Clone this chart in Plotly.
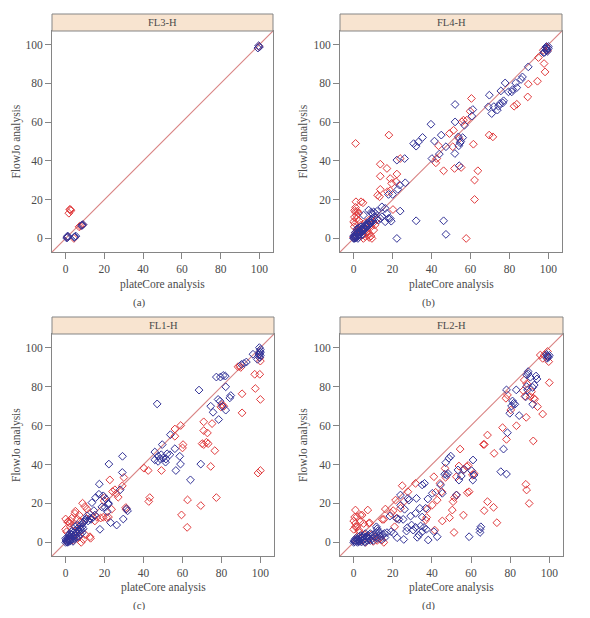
import plotly.graph_objects as go

# ---------------- data (plateCore %, FlowJo %) ----------------
PANELS = ["FL3-H", "FL4-H", "FL1-H", "FL2-H"]
LETTERS = ["(a)", "(b)", "(c)", "(d)"]
TICKS = [0, 20, 40, 60, 80, 100]

# (a) FL3-H
FL3_BLUE_X = [100, 99.6, 99.2, 0.9, 1.3, 0.6, 1.0, 4.8, 5.3, 4.5, 8.6, 9.0, 8.3]
FL3_BLUE_Y = [98.8, 99.4, 98.2, 0.5, 1.0, 0.2, 1.2, 0.9, 1.2, 0.6, 6.9, 7.2, 6.6]
FL3_RED_X = [2.2, 1.7, 2.7, 2.5, 7.0, 7.6, 4.3, 1.0, 99.8, 8.8]
FL3_RED_Y = [15.0, 13.0, 14.3, 14.8, 6.0, 6.5, 0.0, 0.8, 99.0, 7.0]

# (b) FL4-H
FL4_BLUE_X = [99, 98.5, 100, 99.5, 98, 99.2, 97.6, 100, 99, 89.7, 86.7, 86, 83.2, 83.8, 81.7, 81.2, 79.5, 77.8,
              75.6, 75.2, 74.4, 76.6, 73.8, 70.9, 69.7, 69.2, 61.2, 60.7, 52.1, 52.1, 56.9, 53.8, 54.7, 54, 52,
              54.2, 45, 47.4, 44, 40.2, 41.5, 39.7, 35.4, 33.3, 30.8, 32.1, 26.2, 22.2, 23.6, 26.5, 20, 17.9, 22.7,
              22.2, 23.9, 32.1, 46.2, 47.4, 14.5, 16.2, 17.1, 17.9, 16.2, 18.8, 19.3, 13.7, 12.8, 14.5, 10.3, 9.4,
              7.7, 5.1, 72, 77, 55, 56,
              0, 0.5, 1, 1, 1.5, 2, 2, 2.5, 3, 3, 3.5, 4, 4, 4.5, 5, 5, 5.5, 6, 6, 6.5, 7, 7, 7.5, 8, 8, 8.5, 9,
              9.5, 10, 0.3, 0.8, 1.5, 2.2, 3, 0.2, 1.8, 3.8, 2.8, 4.5, 10.5, 11, 12, 9, 0.5, 1.2, 0, 2.5, 3.2, 4.2,
              5.2, 6.3, 7.2, 8.5, 9.8, 1.5, 0.8]
FL4_BLUE_Y = [97, 98, 99, 96.5, 96, 97.5, 95.8, 98, 99, 88.5, 83.3, 82, 80.2, 77.8, 76.8, 75.6, 75.6, 80.2,
              76.1, 69.6, 68.2, 69.9, 66.2, 64.4, 73.9, 67.9, 66.5, 63.1, 69.1, 60.1, 58.4, 52.4, 49.3, 47.8, 43.8,
              37.5, 53.3, 47.3, 43.5, 41.2, 50.2, 58.9, 52.1, 49.8, 48.9, 47.6, 41.2, 40.4, 27.5, 28.7, 22.7, 22.7,
              25.3, 0, 14.1, 9.1, 9.1, 2.1, 16.3, 15.5, 12.9, 10.3, 8.6, 10.3, 8.9, 10.3, 9.5, 11.2, 13.7, 12.9,
              14.6, 12.0, 68, 71, 50, 52,
              0, 1, 0.5, 2, 1, 2.5, 1, 3, 2, 4, 3, 4.5, 3, 5, 4, 6, 5, 6.5, 5, 7, 6, 8, 7, 8.5, 7, 9, 8,
              9.5, 9, 0.2, 3, 3.5, 0, 1, 1.5, 5, 6, 5.5, 2, 11, 13, 14, 13.5, 0, 0.3, 1, 2, 3.2, 4.0,
              5.5, 6, 7.5, 8, 10.5, 2.5, 1.8]
FL4_RED_X = [98.8, 97.4, 99.5, 94.9, 97.8, 98.3, 94.4, 89.7, 89.4, 83.8, 82.4, 60.5, 59.8, 56.4, 58.1, 55.6,
             51.3, 49.2, 50.9, 54.2, 55.2, 51.8, 61.5, 69.6, 71.5, 62.1, 63.8, 62.1, 57.8, 46.2, 42.2, 42.7, 43.6,
             23.9, 22.2, 18.1, 13.7, 17.1, 18.8, 19.5, 13.7, 13.7, 18.8, 17.4, 12.3, 13.3, 21.9, 20.2, 1.0,
             1.2, 3.8, 4.8, 0.9, 0.4, 0.7, 1.7, 8.9, 9.4, 10.3, 0, 1.4, 0.5, 2, 1.5, 0.3, 2.5, 1, 2, 3, 4, 5, 6,
             7, 8, 6, 8, 10, 12, 5, 3, 1, 0, 7, 9, 4, 2.8, 11, 6.5, 7.8]
FL4_RED_Y = [98.8, 97.1, 97, 93.3, 90.2, 85.9, 81.1, 79.6, 73, 69.2, 68.2, 72.2, 65.6, 61, 61, 60.1,
             55.8, 54.1, 47.3, 51.5, 36.6, 36.1, 48.6, 53.3, 52.4, 30.1, 34.9, 20.1, 0, 34.9, 39, 41.2, 47.8,
             41.2, 33.2, 53.3, 38.3, 36.1, 30.9, 28.4, 32.1, 25.3, 24.6, 24.1, 22.3, 21.5, 29.2, 14.9, 49,
             18.9, 18.9, 18.4, 13.7, 11, 7.7, 4.3, 1.2, 0, 4.3, 8.6, 12, 14.5, 14, 10, 6, 13, 16, 1, 5, 1.5, 2, 1,
             3, 0.5, 8, 9.5, 8, 10, 0, 2, 3, 0.5, 5, 6, 7, 9, 7, 3.5, 2]

# (c) FL1-H
FL1_BLUE_X = [99.5, 100, 99.8, 99.5, 100, 99.6, 98.5, 100, 99.2, 96.2, 92.8, 91.6, 90.3, 82, 80.9, 79.5, 77.4,
              82.2, 78.3, 79.3, 80.5, 82.2, 74.5, 75.7, 78.6, 84.8, 84.3, 68.5, 47, 69.4, 64.1, 59, 58.6, 56.6,
              56.1, 53.8, 49.6, 49.1, 45.8, 45.8, 47.5, 50.1, 51.5, 52.1, 51.3, 53.5, 47.5, 48.5, 29.2, 29.1,
              22.2, 17.3, 17.1, 15.4, 19.3, 20.7, 21.9, 21.4, 20.2, 23.1, 26.2, 29.6, 31.8, 31.3, 17.6, 14.5,
              13.5, 11.1, 12.5, 10.4, 11.5, 13, 14, 15, 10, 9.5, 18.6, 22, 28,
              0, 0.5, 1, 1, 1.5, 2, 2, 2.5, 3, 3, 3.5, 4, 4, 4.5, 5, 5, 5.5, 6, 6, 6.5, 7, 7, 7.5, 8, 8, 8.5, 9,
              9, 0.2, 1.2, 2.5, 3.5, 4.5, 5.5, 6.5, 7.5, 8.5, 0, 1.8, 3, 0.8, 3.8, 2.2, 5, 6]
FL1_BLUE_Y = [100, 99, 98, 97, 96, 95, 94, 97.5, 96.2, 96.6, 92.6, 91.9, 91.4, 85.4, 85.7, 84.9, 84.9,
              79.9, 73.4, 72.5, 69.9, 67.9, 69.9, 66.8, 63.1, 75.4, 74.2, 78.2, 71.1, 40.2, 32.1, 40.2, 44.2, 36.9,
              48.1, 55.3, 50.2, 45, 46.4, 42.4, 41.6, 43.3, 42.8, 45.5, 41.2, 45, 44.2, 43, 44.2, 35.9,
              40.2, 29.9, 24.7, 23, 23.9, 22.2, 19.6, 15.8, 17.9, 10.1, 8.9, 12, 16.2, 17.2, 6.7, 16.3,
              20.4, 13.6, 12.4, 12, 11, 11.8, 13, 14, 11.5, 10.5, 18.2, 20.1, 27,
              0, 0.5, 0, 1.5, 1, 2, 0.5, 3, 2, 4, 3, 5, 3, 4, 6, 3.5, 5, 7, 4.5, 6, 8, 5.5, 7, 9, 6.5, 8, 10,
              7, 1.2, 2.5, 1, 1.5, 2, 2.5, 3, 4, 5, 2, 3.8, 5.5, 0.2, 0.5, 4.5, 8, 9]
FL1_RED_X = [100, 99.7, 97.1, 99.7, 97.4, 100, 90.6, 90.6, 89.4, 88.5, 89.9, 80.3, 81.2, 79.7, 70.9, 70.9,
             72.8, 72.3, 73.2, 70.9, 70.1, 75.2, 76.6, 74.5, 77.4, 69.4, 62.6, 62.4, 59.5, 60.3, 60, 59.1, 56.1,
             56.1, 49.2, 42.4, 40.2, 43.2, 42.7, 98.8, 100, 29.9, 29.1, 25.3, 27, 22.7, 24.1, 19.8, 21, 19.3,
             23.6, 30.9, 12.1, 8.7, 9.9, 11, 12.5, 12.8, 9.1, 3.1, 1.4, 2.2, 4.8, 6, 7.4, 0.5, 0, 0, 1, 5, 2.5,
             8, 6, 4, 10, 7, 4.5, 3.5, 7, 15, 16, 18, 26, 31, 20, 22]
FL1_RED_Y = [93.1, 94.8, 86.3, 86.3, 79, 73.4, 76.3, 66.5, 90.5, 90.2, 89.8, 70.8, 69.9, 69.6, 61.9, 57.4,
             56.2, 51.4, 50.7, 50.2, 50.7, 61, 47.1, 39, 23, 18.9, 21.8, 7.7, 14.1, 50.2, 48.5, 60, 58.2,
             54.5, 36.9, 36.9, 38.1, 23, 21, 35.6, 36.9, 33.3, 29, 27, 23.2, 32.1, 26.1, 21.3, 12.7, 12.9,
             17, 17.9, 14.9, 20.1, 18.4, 17, 2.9, 2.1, 1.5, 12.4, 10.7, 9.8, 14.9, 12, 10.7, 5.5, 6.7, 12, 10.5, 16, 11,
             0, 2, 1, 4, 3, 8.5, 6, 14, 11, 13, 12.5, 25, 17, 23, 13]

# (d) FL2-H
FL2_BLUE_X = [99.1, 99, 98.8, 99.5, 98.5, 100, 89.2, 88.4, 89.2, 90.3, 93.2, 93.7, 92.3, 91.5, 88.4, 88.9, 88,
              91.5, 83.1, 78.1, 81.2, 81.7, 82.4, 80.7, 79.8, 84.6, 78.6, 76.6, 75.2, 78.1, 61, 60.3, 61.5, 60.9,
              56.4, 53.3, 55, 53.8, 49.6, 48.7, 47, 48.2, 47.5, 52.5, 45.3, 44.4, 40.2, 36.2, 35, 37.9, 36.8,
              32.1, 28.2, 27.7, 23.9, 21.9, 23.1, 25.3, 27.4, 27, 29.1, 29.6, 31.6, 34.2, 35.9, 37.1, 35, 33.3,
              32.5, 33.8, 31.6, 30.4, 25.6, 22.2, 20.5, 19.1, 15.7, 11.6, 41, 38.1, 42.7, 59, 64.6, 65, 64.6,
              18.5, 26, 24, 46.5, 35, 12, 13, 14,
              0, 0.5, 1, 1.5, 2, 2, 2.5, 3, 3, 3.5, 4, 4, 4.5, 5, 5, 5.5, 6, 6.5, 7, 7, 7.5, 8, 8.5, 9, 9.5, 10,
              10, 11, 11.5, 12, 13, 14, 15, 16, 17, 1, 0.3, 2.8, 6, 8.5, 12.5, 3.5, 5.8]
FL2_BLUE_Y = [95.4, 96, 94.5, 95, 96.5, 96, 87.7, 86, 86.5, 84.8, 85.4, 83.9, 80.8, 79.6, 80, 78.3, 74.8,
              70.9, 78.3, 78.3, 72.6, 71.4, 70.9, 70, 66.3, 65.1, 56.3, 47.9, 36.3, 35.1, 42.3, 36.8, 34.6, 32,
              37.5, 37.2, 34.1, 32, 44.3, 43.2, 40.9, 35.4, 34.6, 24.3, 25.2, 29.5, 25.2, 30.3, 29.5, 22.3, 17.5,
              22.6, 21.7, 22.6, 24.3, 12.3, 11.8, 11.8, 7.5, 5.8, 13.5, 8.9, 7.7, 8.4, 7.7, 6.7, 5.5, 3.8,
              2.6, 17.5, 14.9, 6.3, 1.5, 2.4, 4.6, 5.5, 4.6, 8.0, 5.5, 1.2, 2.9, 2.9, 6.7, 8, 5.1,
              13.5, 17, 19, 35, 13, 7, 5, 3,
              0, 0.3, 1, 0.5, 0, 1.5, 0.8, 2, 0.5, 1.5, 2.5, 0.2, 1, 3, 1.5, 0.5, 2, 3, 1, 2.5, 3.5, 2, 1, 3, 2, 4,
              1, 3, 5, 2, 3.5, 1.5, 4, 2.5, 5, 2, 1, 3, 4.5, 4.5, 6, 3.5, 0]
FL2_RED_X = [99.1, 97.4, 96.6, 99.7, 100, 95.4, 90.9, 90.3, 87.2, 88.5, 86.7, 87.5, 94, 96.6, 91.8, 88.2, 83.2,
             77.8, 78.6, 80.3, 78.1, 76.1, 71.8, 68.4, 66.3, 66.8, 66.7, 68.4, 71.5, 73.2, 88, 88.4, 89.7, 54.4,
             57.8, 58.5, 56.1, 52.5, 53.8, 59, 58.1, 60.7, 61.5, 56.1, 51.3, 52.6, 51.5, 50.8, 50.4, 49, 46.7,
             47, 44.1, 41.9, 42.7, 45, 41, 45.3, 41.4, 37.6, 40.2, 37.3, 36.8, 31.6, 27.7, 24.8, 23.9, 25.6, 22.2,
             20.2, 20.9, 21.4, 19.1, 16.2, 15.4, 14.5, 92, 92.5,
             0.9, 7.2, 3.4, 0.5, 3.4, 5.1, 8.2, 0.9, 2.6, 14.6, 15.4, 1.7, 0, 0.9, 1.7, 0, 4.3, 7.7, 2, 4, 6, 8,
             10, 12, 3, 5.5, 1, 9, 11, 13]
FL2_RED_Y = [98, 96.2, 94.5, 92.8, 82, 96.2, 77.4, 74.8, 83.4, 81.5, 77.9, 75, 69.7, 65.9, 52.1, 64.2, 59.9,
             74, 75.7, 68, 52.9, 58.9, 45.7, 55.1, 50.3, 50.3, 16.3, 20.9, 18, 10.1, 29.8, 26.9, 20, 47.9,
             38.9, 39.5, 37.2, 33.7, 39.2, 26, 25.5, 34.6, 35.4, 14, 5.1, 24.3, 23, 20.9, 16.6, 12.7, 38,
             33.4, 30.3, 25.7, 21.7, 26, 33.7, 11, 6.3, 17.1, 19.2, 12.8, 11.5, 30.3, 26, 29.1, 17.5, 20.9, 12.3,
             16.3, 8, 21.7, 14.9, 17.1, 11.8, 1.2, 74, 73.5,
             16.6, 16.6, 14, 13, 10.6, 9.7, 10, 8, 6.3, 11.8, 0, 13.2, 11, 9.8, 8, 6.7, 14, 9.8, 3, 1, 0, 2,
             0.5, 1, 5, 4, 1, 4, 3, 2]

RED_X = [FL3_RED_X, FL4_RED_X, FL1_RED_X, FL2_RED_X]
RED_Y = [FL3_RED_Y, FL4_RED_Y, FL1_RED_Y, FL2_RED_Y]
BLUE_X = [FL3_BLUE_X, FL4_BLUE_X, FL1_BLUE_X, FL2_BLUE_X]
BLUE_Y = [FL3_BLUE_Y, FL4_BLUE_Y, FL1_BLUE_Y, FL2_BLUE_Y]

# ---------------- styling ----------------
PAGE_OFF = 8            # default body margin of the html page
W, H = 590 - 2 * PAGE_OFF, 618 - 2 * PAGE_OFF
FONT = "Liberation Serif"
TXT = "#4a4a4a"
RED = "#E03A3C"
BLUE = "#323296"
LINE = "#D98484"
STRIP = "#F8E4D0"
FRAME = "#858585"
RANGE = [-7, 107]

# panel boxes in page pixels: (left, right, top, bottom, strip top)
BOXES = [(52, 273, 31, 252, 14), (340, 562, 31, 252, 14),
         (52, 274, 334, 556, 317), (340, 563, 334, 556, 317)]
LETTER_X = [139, 428, 139, 428]
LETTER_Y = [302, 302, 605, 605]
XT_Y = [284, 284, 587, 587]
YT_X = [16, 303, 16, 303]


def px(x):
    return (x - PAGE_OFF) / W


def py(y):
    return 1 - (y - PAGE_OFF) / H


fig = go.Figure()
shapes, annotations = [], []
for i in range(4):
    L, R, T, B, ST = BOXES[i]
    k = "" if i == 0 else str(i + 1)
    xa, ya = "x" + k, "y" + k
    fig.add_trace(go.Scatter(x=RANGE, y=RANGE, mode="lines", line=dict(color=LINE, width=1.2),
                             xaxis=xa, yaxis=ya, showlegend=False, hoverinfo="skip"))
    fig.add_trace(go.Scatter(x=RED_X[i], y=RED_Y[i], mode="markers", xaxis=xa, yaxis=ya, showlegend=False,
                             marker=dict(symbol="diamond-open", size=6, color=RED, line=dict(width=1, color=RED))))
    fig.add_trace(go.Scatter(x=BLUE_X[i], y=BLUE_Y[i], mode="markers", xaxis=xa, yaxis=ya, showlegend=False,
                             marker=dict(symbol="diamond-open", size=6, color=BLUE, line=dict(width=1, color=BLUE))))
    axcommon = dict(range=RANGE, tickvals=TICKS, ticks="outside", ticklen=6, tickcolor=FRAME,
                    showline=True, linecolor=FRAME, linewidth=1, mirror=True, showgrid=False, zeroline=False,
                    tickfont=dict(family=FONT, size=11.5, color=TXT))
    fig.layout["xaxis" + k] = dict(domain=[px(L), px(R)], anchor=ya, **axcommon)
    fig.layout["yaxis" + k] = dict(domain=[py(B), py(T)], anchor=xa, **axcommon)
    shapes.append(dict(type="rect", xref="paper", yref="paper", x0=px(L), x1=px(R), y0=py(T), y1=py(ST),
                       fillcolor=STRIP, line=dict(color=FRAME, width=1)))
    annotations.append(dict(text=PANELS[i], xref="paper", yref="paper", x=px((L + R) / 2), y=py((T + ST) / 2),
                            showarrow=False, font=dict(family=FONT, size=10.5, color=TXT),
                            xanchor="center", yanchor="middle"))
    annotations.append(dict(text="plateCore analysis", xref="paper", yref="paper", x=px((L + R) / 2),
                            y=py(XT_Y[i]), showarrow=False, font=dict(family=FONT, size=11.5, color=TXT),
                            xanchor="center", yanchor="middle"))
    annotations.append(dict(text="FlowJo analysis", xref="paper", yref="paper", x=px(YT_X[i]),
                            y=py((T + B) / 2), showarrow=False, textangle=-90,
                            font=dict(family=FONT, size=11.5, color=TXT),
                            xanchor="center", yanchor="middle"))
    annotations.append(dict(text=LETTERS[i], xref="paper", yref="paper", x=px(LETTER_X[i]),
                            y=py(LETTER_Y[i]), showarrow=False, font=dict(family=FONT, size=11, color=TXT),
                            xanchor="center", yanchor="middle"))

fig.update_layout(width=W, height=H, margin=dict(l=0, r=0, t=0, b=0), paper_bgcolor="white",
                  plot_bgcolor="white", shapes=shapes, annotations=annotations, showlegend=False)
fig.write_html("out.html")
